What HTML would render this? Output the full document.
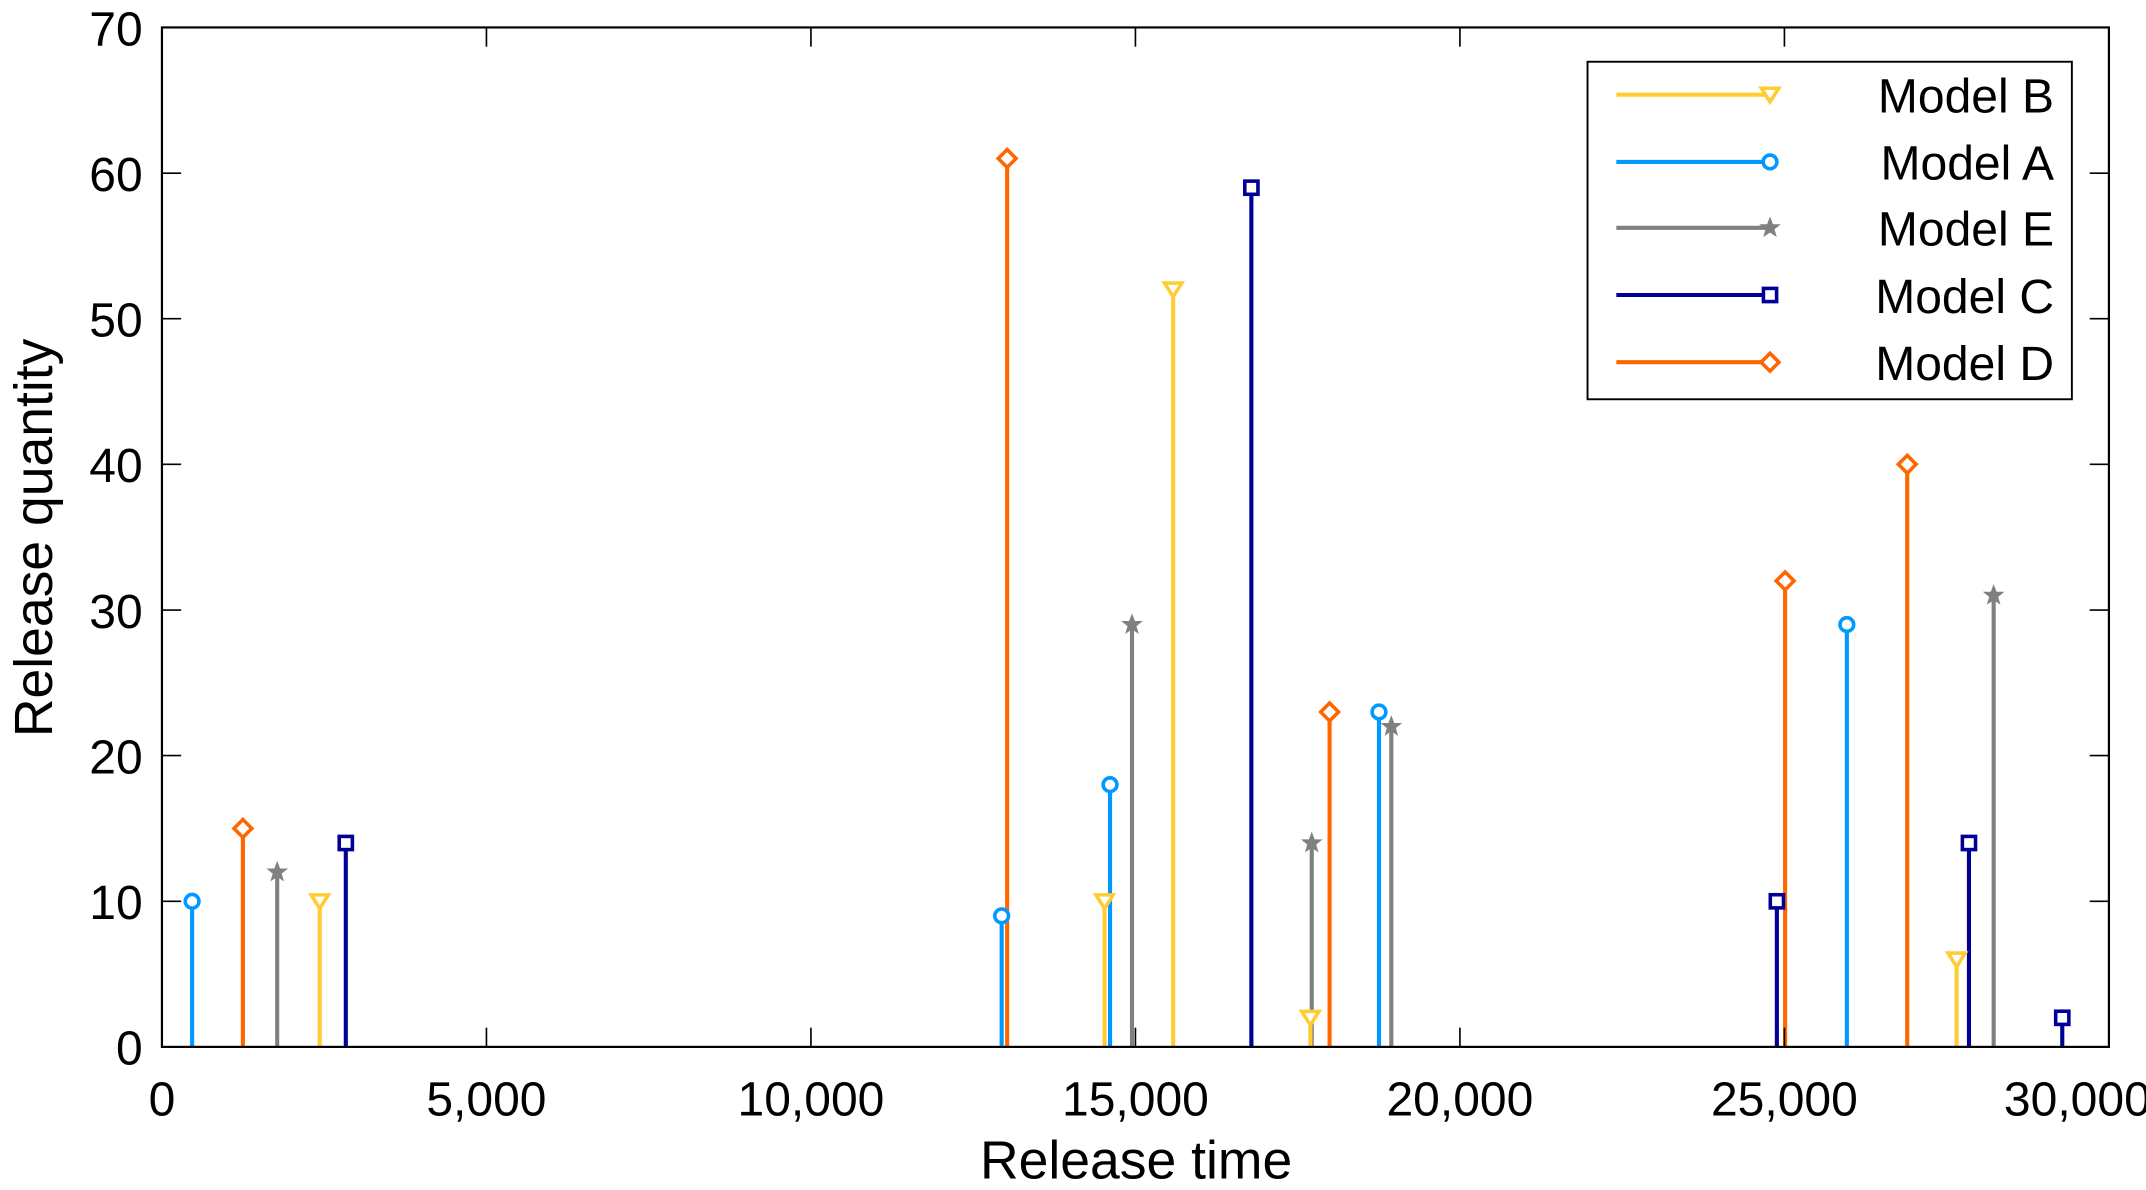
<!DOCTYPE html>
<html><head><meta charset="utf-8"><style>
html,body{margin:0;padding:0;background:#fff;}
svg{display:block;}
text{font-family:"Liberation Sans",Arial,sans-serif;fill:#000;}
</style></head><body>
<svg width="2146" height="1190" viewBox="0 0 1564 867.3" xmlns="http://www.w3.org/2000/svg">
<defs>
<g id="mA"><circle r="5" fill="#fff" stroke="#0099FF" stroke-width="2.6"/></g>
<g id="mD"><path d="M0,-6.5 L6.5,0 L0,6.5 L-6.5,0 Z" fill="#fff" stroke="#FF6600" stroke-width="2.6"/></g>
<g id="mE"><path d="M0,-6.5 L1.7,-2 L6.2,-2 L2.6,0.9 L3.9,5.4 L0,2.8 L-3.9,5.4 L-2.6,0.9 L-6.2,-2 L-1.7,-2 Z" fill="#808080" stroke="#808080" stroke-width="1.2"/></g>
<g id="mB"><path d="M-6.3,-4.7 L6.3,-4.7 L0,5.3 Z" fill="#fff" stroke="#FFCC33" stroke-width="2.6"/></g>
<g id="mC"><rect x="-4.8" y="-4.8" width="9.6" height="9.6" fill="#fff" stroke="#000099" stroke-width="2.6"/></g>
</defs>
<g stroke-width="3" fill="none">
<g stroke="#0099FF">
<line x1="140" y1="763" x2="140" y2="656.9"/><line x1="730" y1="763" x2="730" y2="667.5"/><line x1="809" y1="763" x2="809" y2="571.9"/><line x1="1005" y1="763" x2="1005" y2="518.9"/><line x1="1346" y1="763" x2="1346" y2="455.2"/>
</g>
<g stroke="#FF6600">
<line x1="177" y1="763" x2="177" y2="603.8"/><line x1="734" y1="763" x2="734" y2="115.5"/><line x1="969" y1="763" x2="969" y2="518.9"/><line x1="1301" y1="763" x2="1301" y2="423.4"/><line x1="1390" y1="763" x2="1390" y2="338.4"/>
</g>
<g stroke="#808080">
<line x1="202" y1="763" x2="202" y2="635.6"/><line x1="825" y1="763" x2="825" y2="455.2"/><line x1="956" y1="763" x2="956" y2="614.4"/><line x1="1014" y1="763" x2="1014" y2="529.5"/><line x1="1453" y1="763" x2="1453" y2="433.9"/>
</g>
<g stroke="#FFCC33">
<line x1="233" y1="763" x2="233" y2="656.9"/><line x1="805" y1="763" x2="805" y2="656.9"/><line x1="855" y1="763" x2="855" y2="211"/><line x1="955" y1="763" x2="955" y2="741.8"/><line x1="1426" y1="763" x2="1426" y2="699.3"/>
</g>
<g stroke="#000099">
<line x1="252" y1="763" x2="252" y2="614.4"/><line x1="912" y1="763" x2="912" y2="136.8"/><line x1="1295" y1="763" x2="1295" y2="656.9"/><line x1="1435" y1="763" x2="1435" y2="614.4"/><line x1="1503" y1="763" x2="1503" y2="741.8"/>
</g>
</g>
<use href="#mA" x="140" y="656.9"/><use href="#mA" x="730" y="667.5"/><use href="#mA" x="809" y="571.9"/><use href="#mA" x="1005" y="518.9"/><use href="#mA" x="1346" y="455.2"/>
<use href="#mD" x="177" y="603.8"/><use href="#mD" x="734" y="115.5"/><use href="#mD" x="969" y="518.9"/><use href="#mD" x="1301" y="423.4"/><use href="#mD" x="1390" y="338.4"/>
<use href="#mE" x="202" y="635.6"/><use href="#mE" x="825" y="455.2"/><use href="#mE" x="956" y="614.4"/><use href="#mE" x="1014" y="529.5"/><use href="#mE" x="1453" y="433.9"/>
<use href="#mB" x="233" y="656.9"/><use href="#mB" x="805" y="656.9"/><use href="#mB" x="855" y="211"/><use href="#mB" x="955" y="741.8"/><use href="#mB" x="1426" y="699.3"/>
<use href="#mC" x="252" y="614.4"/><use href="#mC" x="912" y="136.8"/><use href="#mC" x="1295" y="656.9"/><use href="#mC" x="1435" y="614.4"/><use href="#mC" x="1503" y="741.8"/>
<rect x="118" y="20" width="1419" height="743" fill="none" stroke="#000" stroke-width="1.6"/>
<g stroke="#000" stroke-width="1.2">
<line x1="354.5" y1="763" x2="354.5" y2="749"/><line x1="591" y1="763" x2="591" y2="749"/><line x1="827.5" y1="763" x2="827.5" y2="749"/><line x1="1064" y1="763" x2="1064" y2="749"/><line x1="1300.5" y1="763" x2="1300.5" y2="749"/>
<line x1="354.5" y1="20" x2="354.5" y2="34"/><line x1="591" y1="20" x2="591" y2="34"/><line x1="827.5" y1="20" x2="827.5" y2="34"/><line x1="1064" y1="20" x2="1064" y2="34"/><line x1="1300.5" y1="20" x2="1300.5" y2="34"/>
<line x1="118" y1="656.9" x2="132" y2="656.9"/><line x1="118" y1="550.7" x2="132" y2="550.7"/><line x1="118" y1="444.6" x2="132" y2="444.6"/><line x1="118" y1="338.4" x2="132" y2="338.4"/><line x1="118" y1="232.3" x2="132" y2="232.3"/><line x1="118" y1="126.2" x2="132" y2="126.2"/>
<line x1="1537" y1="656.9" x2="1523" y2="656.9"/><line x1="1537" y1="550.7" x2="1523" y2="550.7"/><line x1="1537" y1="444.6" x2="1523" y2="444.6"/><line x1="1537" y1="338.4" x2="1523" y2="338.4"/><line x1="1537" y1="232.3" x2="1523" y2="232.3"/><line x1="1537" y1="126.2" x2="1523" y2="126.2"/>
</g>
<g font-size="35" text-anchor="end">
<text x="104" y="776">0</text><text x="104" y="669.9">10</text><text x="104" y="563.7">20</text><text x="104" y="457.6">30</text><text x="104" y="351.4">40</text><text x="104" y="245.3">50</text><text x="104" y="139.2">60</text><text x="104" y="33">70</text>
</g>
<g font-size="35" text-anchor="middle">
<text x="118" y="813">0</text><text x="354.5" y="813">5,000</text><text x="591" y="813">10,000</text><text x="827.5" y="813">15,000</text><text x="1064" y="813">20,000</text><text x="1300.5" y="813">25,000</text><text x="1514" y="813">30,000</text>
</g>
<text x="828" y="859" font-size="39" text-anchor="middle">Release time</text>
<text transform="translate(38,392) rotate(-90)" font-size="39" text-anchor="middle">Release quantity</text>
<rect x="1157" y="45" width="353" height="246" fill="#fff" stroke="#000" stroke-width="1.4"/>
<g stroke-width="3">
<line x1="1178" y1="69" x2="1290" y2="69" stroke="#FFCC33"/>
<line x1="1178" y1="118" x2="1290" y2="118" stroke="#0099FF"/>
<line x1="1178" y1="166" x2="1290" y2="166" stroke="#808080"/>
<line x1="1178" y1="215" x2="1290" y2="215" stroke="#000099"/>
<line x1="1178" y1="264" x2="1290" y2="264" stroke="#FF6600"/>
</g>
<use href="#mB" x="1290" y="69"/><use href="#mA" x="1290" y="118"/><use href="#mE" x="1290" y="166"/><use href="#mC" x="1290" y="215"/><use href="#mD" x="1290" y="264"/>
<g font-size="35" text-anchor="end">
<text x="1497" y="82">Model B</text><text x="1497" y="131">Model A</text><text x="1497" y="179">Model E</text><text x="1497" y="228">Model C</text><text x="1497" y="277">Model D</text>
</g>
</svg>
</body></html>
